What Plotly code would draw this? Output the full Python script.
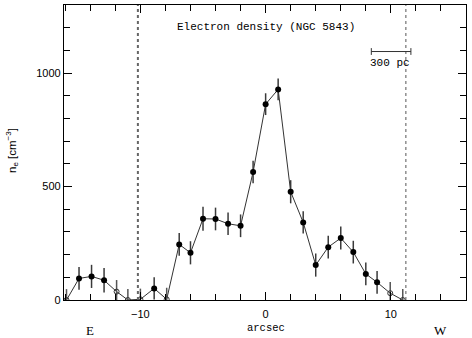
import plotly.graph_objects as go

# --- data ---
arcsec = [-15.9, -14.9, -13.9, -12.9, -11.9, -11.0, -10.0, -8.9, -7.9, -6.9,
          -6.0, -5.0, -4.0, -3.0, -2.0, -1.0, 0.0, 1.0, 2.0, 3.0,
          4.0, 5.0, 6.0, 7.0, 8.0, 8.9, 9.95, 10.95]
ne = [0, 95, 104, 87, 37, 0, 3, 51, 3, 245,
      208, 358, 357, 336, 327, 564, 863, 928, 477, 342,
      154, 233, 273, 211, 115, 78, 30, 0]
ne_err = [48, 50, 51, 54, 51, 48, 47, 49, 51, 50,
          51, 53, 50, 50, 50, 50, 48, 48, 51, 49,
          51, 50, 51, 50, 50, 50, 49, 48]
is_open = [True, False, False, False, True, True, True, False, True, False,
           False, False, False, False, False, False, False, False, False, False,
           False, False, False, False, False, False, True, True]

x_ticks = [-10, 0, 10]
x_tick_labels = ["\u221210", "0", "10"]
y_ticks = [0, 500, 1000]
y_tick_labels = ["0", "500", "1000"]

dotted_lines = [-10.2, 11.2]
scale_bar_x = [8.44, 11.6]
scale_bar_y = 1095
title_text = "Electron density (NGC 5843)"

fig = go.Figure()

# connecting line
fig.add_trace(go.Scatter(x=arcsec, y=ne, mode="lines",
                         line=dict(color="#333333", width=1), showlegend=False,
                         hoverinfo="skip"))

fx = [x for x, o in zip(arcsec, is_open) if not o]
fy = [y for y, o in zip(ne, is_open) if not o]
fe = [e for e, o in zip(ne_err, is_open) if not o]
ox = [x for x, o in zip(arcsec, is_open) if o]
oy = [y for y, o in zip(ne, is_open) if o]
oe = [e for e, o in zip(ne_err, is_open) if o]

fig.add_trace(go.Scatter(x=fx, y=fy, mode="markers",
                         error_y=dict(type="data", array=fe, width=0,
                                      thickness=1.5, color="#3a3a3a"),
                         marker=dict(symbol="circle", size=6, color="black"),
                         showlegend=False))
fig.add_trace(go.Scatter(x=ox, y=oy, mode="markers",
                         error_y=dict(type="data", array=oe, width=0,
                                      thickness=1.5, color="#555555"),
                         marker=dict(symbol="circle-open", size=5, color="#333333",
                                     line=dict(width=1)),
                         showlegend=False))

# vertical dotted lines
fig.add_shape(type="line", x0=dotted_lines[0], x1=dotted_lines[0], y0=0, y1=1,
              yref="paper", line=dict(color="#666666", width=2, dash="dot"))
fig.add_shape(type="line", x0=dotted_lines[1], x1=dotted_lines[1], y0=0, y1=1,
              yref="paper", line=dict(color="#555555", width=1, dash="dot"))

# scale bar
fig.add_shape(type="line", x0=scale_bar_x[0], x1=scale_bar_x[1],
              y0=scale_bar_y, y1=scale_bar_y, line=dict(color="#333333", width=1))
for sx in scale_bar_x:
    fig.add_shape(type="line", x0=sx, x1=sx, y0=scale_bar_y - 15,
                  y1=scale_bar_y + 15, line=dict(color="#333333", width=1))

mono = "Liberation Mono"
fig.add_annotation(x=sum(scale_bar_x) / 2 - 0.05, y=1044, text="300 pc", showarrow=False,
                   font=dict(family=mono, size=11, color="black"))
fig.add_annotation(x=0, y=1204, text=title_text, showarrow=False,
                   font=dict(family=mono, size=11, color="black"))
fig.add_annotation(x=0, y=-28 / 295, yref="paper", yanchor="middle", text="arcsec",
                   showarrow=False, font=dict(family=mono, size=10.5, color="black"))
fig.add_annotation(x=-14, y=-30 / 295, yref="paper", yanchor="middle", text="E",
                   showarrow=False,
                   font=dict(family="Liberation Serif", size=13, color="black"))
fig.add_annotation(x=14, y=-30 / 295, yref="paper", yanchor="middle", text="W",
                   showarrow=False,
                   font=dict(family="Liberation Serif", size=13, color="black"))
fig.add_annotation(xref="paper", yref="paper", x=-52 / 402, y=(300 - 151) / 295,
                   xanchor="center", yanchor="middle",
                   text="n<sub>e</sub> [cm<sup>\u22123</sup>]",
                   textangle=-90, showarrow=False,
                   font=dict(family="Liberation Sans", size=11.5, color="black"))

fig.update_xaxes(range=[-16.1, 16.0], tickvals=x_ticks, ticktext=x_tick_labels,
                 ticks="inside", ticklen=8, tickwidth=1, tickcolor="black",
                 ticklabelstandoff=4,
                 showline=True, linecolor="black", linewidth=1.3, mirror="ticks",
                 showgrid=False, zeroline=False,
                 minor=dict(ticks="inside", dtick=2, tick0=0, ticklen=6,
                            tickcolor="black", tickwidth=1, showgrid=False),
                 tickfont=dict(family="Liberation Sans", size=11, color="black"))
fig.update_yaxes(range=[0, 1300], tickvals=y_ticks, ticktext=y_tick_labels,
                 ticks="inside", ticklen=8, tickwidth=1, tickcolor="black",
                 showline=True, linecolor="black", linewidth=1.3, mirror="ticks",
                 showgrid=False, zeroline=False,
                 minor=dict(ticks="inside", dtick=100, tick0=0, ticklen=6,
                            tickcolor="black", tickwidth=1, showgrid=False),
                 tickfont=dict(family="Liberation Sans", size=11, color="black"))

fig.update_layout(width=472, height=338, margin=dict(l=64, r=6, t=5, b=38),
                  paper_bgcolor="white", plot_bgcolor="white")

fig.write_html("out.html", config={"displayModeBar": False},
               post_script="document.body.style.margin='0';document.body.style.overflow='hidden';")
